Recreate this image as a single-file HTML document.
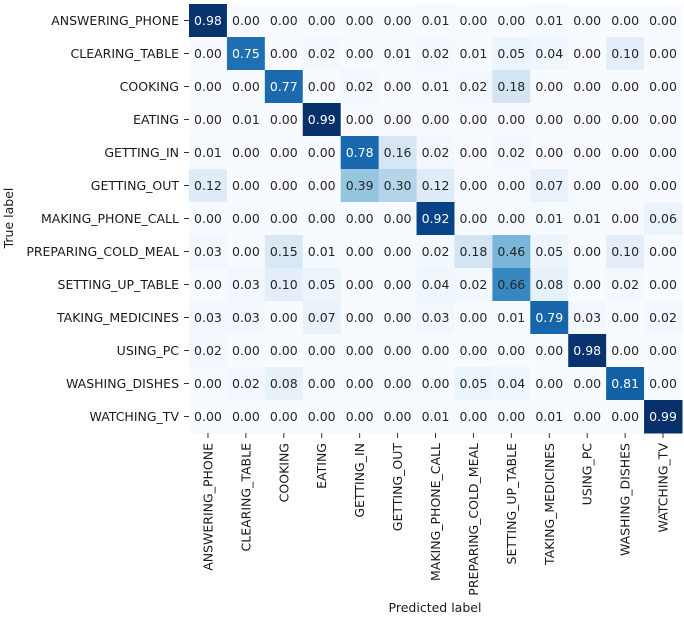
<!DOCTYPE html>
<html><head><meta charset="utf-8"><style>
html,body{margin:0;padding:0;background:#fff}
svg{display:block;font-family:"DejaVu Sans","Liberation Sans",sans-serif}
</style></head><body>
<svg id="chart" width="684" height="619" viewBox="0 0 684 619"></svg>
<script>
const labels = ["ANSWERING_PHONE","CLEARING_TABLE","COOKING","EATING","GETTING_IN","GETTING_OUT","MAKING_PHONE_CALL","PREPARING_COLD_MEAL","SETTING_UP_TABLE","TAKING_MEDICINES","USING_PC","WASHING_DISHES","WATCHING_TV"];
const row0 = [0.98,0.00,0.00,0.00,0.00,0.00,0.01,0.00,0.00,0.01,0.00,0.00,0.00];
const row1 = [0.00,0.75,0.00,0.02,0.00,0.01,0.02,0.01,0.05,0.04,0.00,0.10,0.00];
const row2 = [0.00,0.00,0.77,0.00,0.02,0.00,0.01,0.02,0.18,0.00,0.00,0.00,0.00];
const row3 = [0.00,0.01,0.00,0.99,0.00,0.00,0.00,0.00,0.00,0.00,0.00,0.00,0.00];
const row4 = [0.01,0.00,0.00,0.00,0.78,0.16,0.02,0.00,0.02,0.00,0.00,0.00,0.00];
const row5 = [0.12,0.00,0.00,0.00,0.39,0.30,0.12,0.00,0.00,0.07,0.00,0.00,0.00];
const row6 = [0.00,0.00,0.00,0.00,0.00,0.00,0.92,0.00,0.00,0.01,0.01,0.00,0.06];
const row7 = [0.03,0.00,0.15,0.01,0.00,0.00,0.02,0.18,0.46,0.05,0.00,0.10,0.00];
const row8 = [0.00,0.03,0.10,0.05,0.00,0.00,0.04,0.02,0.66,0.08,0.00,0.02,0.00];
const row9 = [0.03,0.03,0.00,0.07,0.00,0.00,0.03,0.00,0.01,0.79,0.03,0.00,0.02];
const row10= [0.02,0.00,0.00,0.00,0.00,0.00,0.00,0.00,0.00,0.00,0.98,0.00,0.00];
const row11= [0.00,0.02,0.08,0.00,0.00,0.00,0.00,0.05,0.04,0.00,0.00,0.81,0.00];
const row12= [0.00,0.00,0.00,0.00,0.00,0.00,0.01,0.00,0.00,0.01,0.00,0.00,0.99];
const matrix = [row0,row1,row2,row3,row4,row5,row6,row7,row8,row9,row10,row11,row12];

const NS="http://www.w3.org/2000/svg";
const svg=document.getElementById('chart');
const X0=189, Y0=4, CW=(682-189)/13, CH=(433-4)/13;
const xPos=j=>X0+j*CW, yPos=i=>Y0+i*CH;
const stops=[[247,251,255],[222,235,247],[198,219,239],[158,202,225],[107,174,214],[66,146,198],[33,113,181],[8,81,156],[8,48,107]];
let vmax=0,vmin=1;matrix.forEach(r=>r.forEach(v=>{vmax=Math.max(vmax,v);vmin=Math.min(vmin,v);}));
function color(v){let t=(v-vmin)/(vmax-vmin);t=Math.max(0,Math.min(1,t))*8;const k=Math.min(7,Math.floor(t)),f=t-k;
const c=stops[k].map((a,i)=>Math.round(a+(stops[k+1][i]-a)*f));return c;}
function mk(tag,attrs,txt){const e=document.createElementNS(NS,tag);for(const k in attrs)e.setAttribute(k,attrs[k]);if(txt!==undefined)e.textContent=txt;svg.appendChild(e);return e;}
matrix.forEach((r,i)=>r.forEach((v,j)=>{
  const c=color(v);
  const rect=mk('rect',{x:xPos(j),y:yPos(i),width:CW+0.5,height:CH+0.5,fill:`rgb(${c})`});
  
  
  const lum=(0.2126*c[0]+0.7152*c[1]+0.0722*c[2])/255;
  const t=mk('text',{x:xPos(j)+CW/2,y:yPos(i)+CH/2+4.5,'text-anchor':'middle','font-size':12.5,fill:lum<0.45?'#fff':'#262626'},v.toFixed(2));
  
  
}));
labels.forEach((l,i)=>{
  const cy=yPos(i)+CH/2;
  mk('line',{x1:X0-5,x2:X0,y1:cy,y2:cy,stroke:'#333','stroke-width':1});
  const t=mk('text',{x:X0-10,y:cy+4.5,'text-anchor':'end','font-size':12.5,fill:'#1a1a1a'},l);
  
  
  const cx=xPos(i)+CW/2;
  mk('line',{x1:cx,x2:cx,y1:433,y2:438,stroke:'#333','stroke-width':1});
  const tx=mk('text',{x:0,y:0,'text-anchor':'end','font-size':12.5,fill:'#1a1a1a',transform:`translate(${cx+4.5},443) rotate(-90)`},l);
  
  
});
const xt=mk('text',{x:435,y:612,'text-anchor':'middle','font-size':12.5,fill:'#1a1a1a'},'Predicted label');


const yt=mk('text',{x:0,y:0,'text-anchor':'middle','font-size':12.5,fill:'#1a1a1a',transform:'translate(13,218) rotate(-90)'},'True label');


</script>
</body></html>
